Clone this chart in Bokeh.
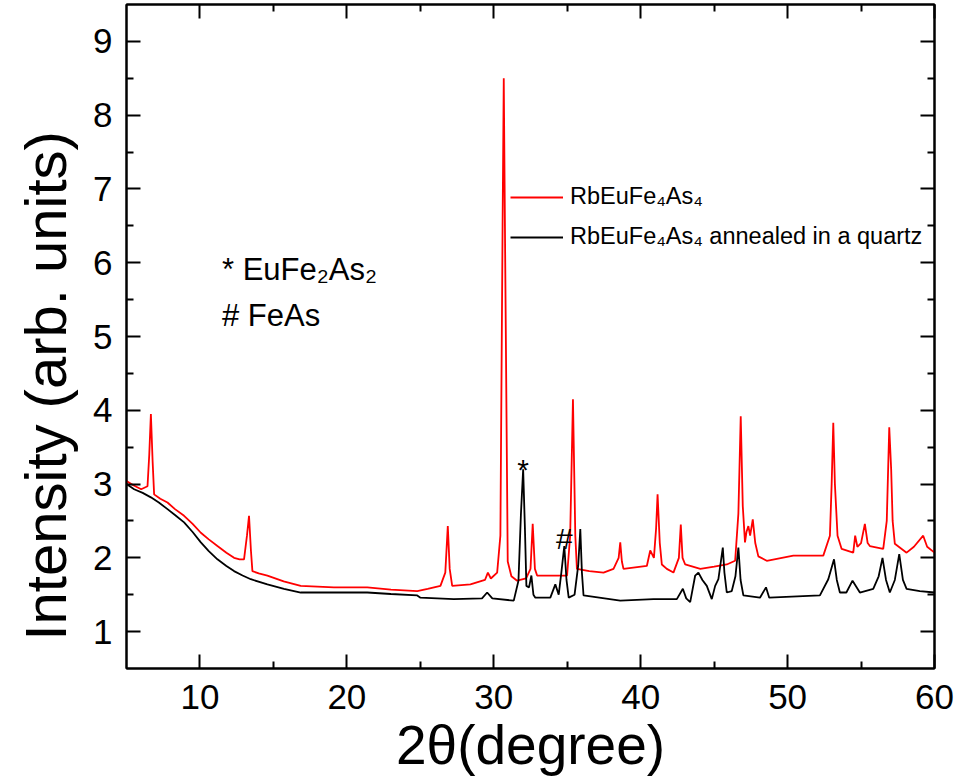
import math
from bokeh.plotting import figure
from bokeh.models import (Range1d, LinearAxis, FixedTicker, Legend, LegendItem, Label, Title,
                          CustomJSTickFormatter)
from bokeh.embed import file_html
from bokeh.resources import INLINE

# ---- data ----
red_x = [5.0, 5.5, 6.0, 6.43, 6.55, 6.66, 6.78, 6.88, 7.3, 7.79, 8.3, 8.92, 9.5, 10.06, 10.6, 11.19,
         11.8, 12.32, 12.7, 13.0, 13.2, 13.34, 13.47, 13.57, 14.0, 14.59, 15.7, 16.86, 18.0, 19.12,
         21.39, 23.0, 24.79, 25.5, 26.37, 26.7, 26.87, 27.0, 27.17, 28.41, 29.4, 29.6, 29.8, 30.23,
         30.45, 30.6, 30.68, 30.78, 30.95, 31.2, 31.59, 32.2, 32.5, 32.65, 32.8, 32.95, 34.08, 34.99,
         35.2, 35.39, 35.55, 35.66, 36.5, 37.47, 38.15, 38.5, 38.61, 38.72, 38.83, 40.42, 40.65, 40.9,
         41.05, 41.15, 41.3, 41.44, 41.78, 42.23, 42.6, 42.73, 42.85, 43.03, 44.06, 45.0, 45.86, 46.43,
         46.65, 46.81, 46.95, 47.1, 47.2, 47.33, 47.45, 47.63, 47.8, 48.01, 48.58, 50.39, 52.43, 52.88,
         53.0, 53.11, 53.22, 53.4, 53.68, 54.47, 54.6, 54.75, 55.0, 55.26, 55.45, 55.6, 56.51, 56.75,
         56.92, 57.05, 57.15, 57.3, 58.1, 58.6, 59.23, 59.5, 60.0]
red_y = [3.04, 2.98, 2.93, 2.97, 3.4, 3.95, 3.3, 2.86, 2.8, 2.75, 2.66, 2.57, 2.46, 2.34, 2.25, 2.16,
         2.07, 2.0, 1.98, 1.98, 2.3, 2.57, 2.1, 1.82, 1.79, 1.76, 1.68, 1.62, 1.61, 1.60,
         1.60, 1.57, 1.55, 1.58, 1.62, 1.8, 2.43, 1.85, 1.62, 1.64, 1.70, 1.8, 1.72, 1.80,
         2.3, 6.5, 8.5, 6.0, 1.95, 1.75, 1.69, 1.72, 1.85, 2.46, 1.85, 1.76, 1.76, 1.76,
         2.3, 4.15, 2.3, 1.85, 1.82, 1.80, 1.85, 2.0, 2.21, 1.95, 1.85, 1.89, 2.1, 2.0,
         2.4, 2.86, 2.2, 1.91, 1.85, 1.80, 2.0, 2.45, 2.0, 1.91, 1.85, 1.88, 1.91, 1.96,
         2.6, 3.92, 2.7, 2.21, 2.35, 2.43, 2.3, 2.52, 2.2, 2.02, 1.96, 2.03, 2.03, 2.3,
         3.0, 3.83, 3.0, 2.3, 2.12, 2.07, 2.3, 2.15, 2.2, 2.46, 2.2, 2.16, 2.12, 2.5,
         3.77, 3.2, 2.5, 2.19, 2.07, 2.15, 2.3, 2.15, 2.07]

black_x = [5.0, 5.52, 6.1, 6.66, 7.2, 7.79, 8.3, 8.92, 9.5, 10.06, 10.6, 11.19, 11.8, 12.32, 12.9,
           13.46, 14.59, 15.72, 16.86, 19.12, 21.39, 23.0, 24.79, 25.01, 27.28, 29.2, 29.55, 29.9,
           31.36, 31.68, 31.85, 32.0, 32.12, 32.22, 32.4, 32.56, 32.7, 32.83, 33.85, 34.19, 34.42,
           34.6, 34.8, 34.95, 35.1, 35.5, 35.75, 35.89, 36.0, 36.11, 38.61, 40.87, 42.46, 42.87,
           43.1, 43.37, 43.71, 43.93, 44.2, 44.5, 44.84, 45.07, 45.29, 45.59, 45.7, 45.86, 46.2,
           46.45, 46.65, 46.8, 46.99, 48.12, 48.53, 48.75, 52.2, 52.77, 53.16, 53.35, 53.56, 54.0,
           54.42, 54.92, 55.83, 56.2, 56.46, 56.7, 56.96, 57.3, 57.6, 57.85, 58.1, 59.0, 60.0]
black_y = [3.0, 2.93, 2.88, 2.82, 2.75, 2.66, 2.58, 2.48, 2.35, 2.21, 2.09, 1.98, 1.89, 1.82, 1.76,
           1.71, 1.64, 1.58, 1.53, 1.53, 1.53, 1.51, 1.49, 1.46, 1.44, 1.45, 1.53, 1.45,
           1.42, 1.69, 2.6, 3.2, 2.4, 1.62, 1.6, 1.76, 1.5, 1.46, 1.46, 1.64, 1.5,
           1.8, 2.16, 1.7, 1.46, 1.5, 1.9, 2.39, 1.8, 1.49, 1.42, 1.44, 1.44, 1.58,
           1.45, 1.40, 1.76, 1.80, 1.7, 1.62, 1.44, 1.62, 1.71, 2.14, 1.8, 1.53, 1.55,
           1.75, 2.14, 1.7, 1.49, 1.46, 1.6, 1.46, 1.49, 1.71, 1.98, 1.7, 1.53, 1.53,
           1.69, 1.53, 1.58, 1.75, 2.0, 1.7, 1.53, 1.7, 2.05, 1.7, 1.58, 1.55, 1.53]

x_major = [10, 20, 30, 40, 50, 60]
x_minor = [15, 25, 35, 45, 55]
y_major = [1, 2, 3, 4, 5, 6, 7, 8, 9]
y_minor = [1.5, 2.5, 3.5, 4.5, 5.5, 6.5, 7.5, 8.5]

series_labels = ["RbEuFe\u2084As\u2084", "RbEuFe\u2084As\u2084 annealed in a quartz"]
phase_labels = ["* EuFe\u2082As\u2082", "# FeAs"]
star_peak = (32.0, 3.2)     # black peak marked with *
hash_peak = (34.8, 2.16)    # black peak marked with #

FONT = "Liberation Sans"

p = figure(width=961, height=782, x_range=Range1d(5, 60), y_range=Range1d(0.5, 9.5),
           output_backend="svg", toolbar_location=None,
           min_border_left=126, min_border_right=27, min_border_top=4, min_border_bottom=114)
p.background_fill_color = "white"
p.border_fill_color = "white"
p.outline_line_color = "black"
p.outline_line_width = 2
p.xgrid.visible = False
p.ygrid.visible = False

def style_axis(ax, ticks, minor, labels=True):
    ax.ticker = FixedTicker(ticks=ticks, minor_ticks=minor)
    ax.axis_line_color = "black"
    ax.axis_line_width = 2
    ax.major_tick_in = 14
    ax.major_tick_out = 0
    ax.minor_tick_in = 7
    ax.minor_tick_out = 0
    ax.major_tick_line_width = 2
    ax.minor_tick_line_width = 2
    if labels:
        ax.major_label_text_font = FONT
        ax.major_label_text_font_size = "35px"
        ax.major_label_text_color = "black"
    else:
        ax.formatter = CustomJSTickFormatter(code="return ''")
        ax.major_label_text_font_size = "1px"
        ax.major_label_standoff = 0

style_axis(p.xaxis[0], x_major, x_minor)
style_axis(p.yaxis[0], y_major, y_minor)
p.xaxis[0].major_label_standoff = 16
p.yaxis[0].major_label_standoff = 14

top = LinearAxis()
style_axis(top, x_major, x_minor, labels=False)
p.add_layout(top, "above")
right = LinearAxis()
style_axis(right, y_major, y_minor, labels=False)
p.add_layout(right, "right")

r_red = p.line(red_x, red_y, line_color="#ff0000", line_width=1.8)
r_black = p.line(black_x, black_y, line_color="black", line_width=1.8)

legend = Legend(items=[LegendItem(label=series_labels[0], renderers=[r_red]),
                       LegendItem(label=series_labels[1], renderers=[r_black])],
                location=(384, 418), border_line_color=None, background_fill_alpha=0,
                label_text_font=FONT, label_text_font_size="23.5px", label_text_color="black",
                glyph_width=53, glyph_height=20, label_height=20, spacing=13,
                padding=0, margin=0, label_standoff=7)
p.add_layout(legend)

p.add_layout(Label(x=11.5, y=5.77, text=phase_labels[0], text_font=FONT, text_font_size="31px",
                   text_color="black", text_baseline="alphabetic", text_align="left", y_offset=10))
p.add_layout(Label(x=11.5, y=5.12, text=phase_labels[1], text_font=FONT, text_font_size="31px",
                   text_color="black", text_baseline="alphabetic", text_align="left", y_offset=12))

p.add_layout(Label(x=star_peak[0], y=star_peak[1], text="*", text_font=FONT, text_font_size="30px",
                   text_color="black", text_baseline="alphabetic", text_align="center"))
p.add_layout(Label(x=hash_peak[0], y=hash_peak[1], text="#", text_font=FONT, text_font_size="30px",
                   text_color="black", text_baseline="alphabetic", text_align="center", y_offset=8))

# axis titles
ytitle = Title(text="Intensity (arb. units)", align="left", offset=28, standoff=22,
               vertical_align="top",
               text_font=FONT, text_font_size="58px", text_font_style="normal", text_color="black")
p.add_layout(ytitle, "left")
xtitle = Title(text="2\u03b8(degree)", align="center", standoff=0,
               text_font=FONT, text_font_size="55px", text_font_style="normal", text_color="black")
p.add_layout(xtitle, "below")

open("out.html", "w").write(file_html(p, INLINE))
